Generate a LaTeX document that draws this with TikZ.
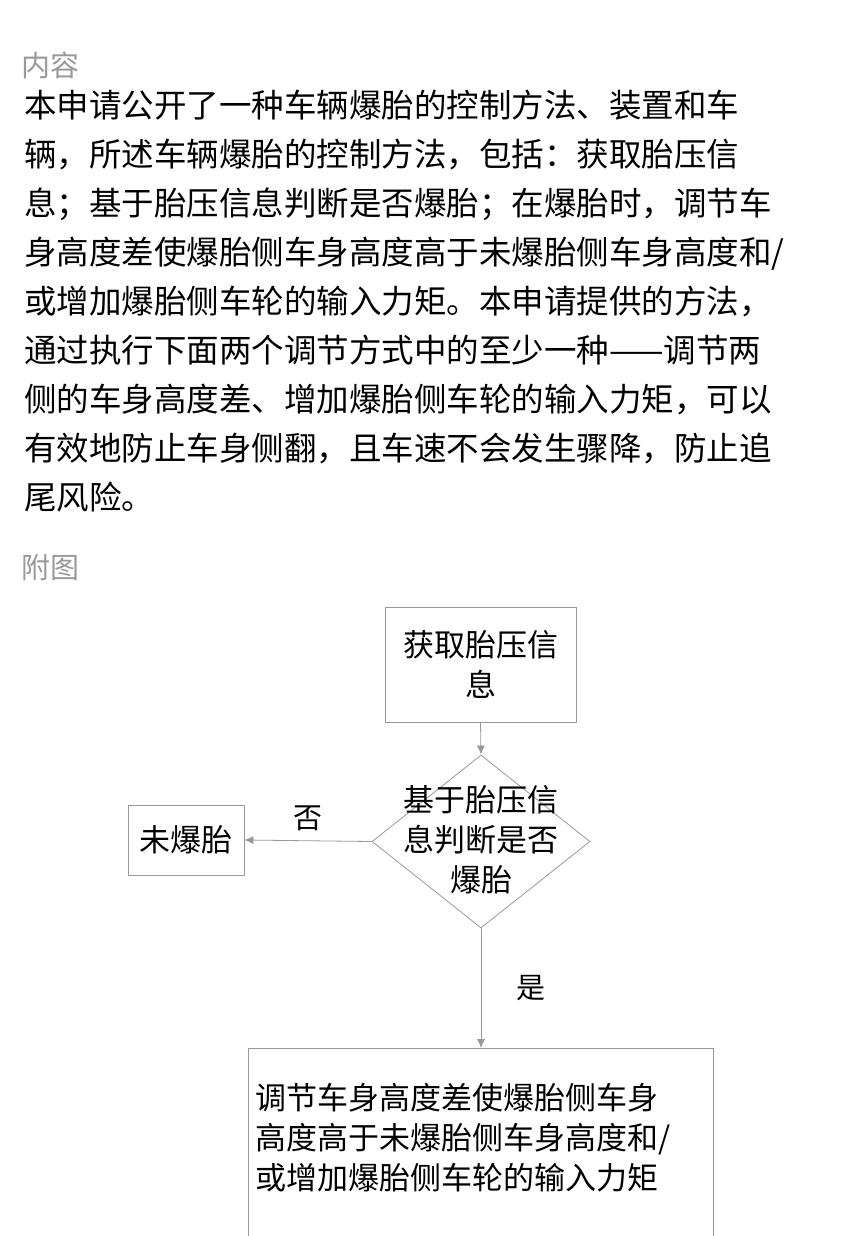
\documentclass[tikz,border=0pt]{standalone}
\usepackage{fontspec}
\newfontfamily\cjk{Noto Sans CJK SC}
\usetikzlibrary{shapes.geometric,arrows.meta}
\begin{document}
\begin{tikzpicture}[x=1pt,y=-1pt,
  head/.style={anchor=west,text=gray!80,font=\cjk\fontsize{29}{30}\selectfont},
  para/.style={anchor=north west,align=left,inner sep=0pt,font=\cjk\fontsize{32.5}{49}\selectfont},
  box/.style={draw=gray!80,thick,font=\cjk\fontsize{31}{40}\selectfont,align=center},
  lbl/.style={font=\cjk\fontsize{29}{30}\selectfont},
  flow/.style={draw=gray!80,thick,-{Latex[length=9pt,width=8pt]}}]
\useasboundingbox (0,0) rectangle (852,1236);
\node[head] (h1) at (18,65) {内容};
\node[para] (txt) at (24,90) {本申请公开了一种车辆爆胎的控制方法、装置和车\\
辆，所述车辆爆胎的控制方法，包括：获取胎压信\\
息；基于胎压信息判断是否爆胎；在爆胎时，调节车\\
身高度差使爆胎侧车身高度高于未爆胎侧车身高度和/\\
或增加爆胎侧车轮的输入力矩。本申请提供的方法，\\
通过执行下面两个调节方式中的至少一种——调节两\\
侧的车身高度差、增加爆胎侧车轮的输入力矩，可以\\
有效地防止车身侧翻，且车速不会发生骤降，防止追\\
尾风险。};
\node[head] (h2) at (18,567) {附图};
% flow chart
\node[box,minimum width=191pt,minimum height=115pt] (get) at (480.5,664.5) {获取胎压信\\息};
\node[box,diamond,minimum width=218pt,minimum height=173pt,inner sep=0pt,aspect=1.26] (judge) at (481,841.5) {};
\node[font=\cjk\fontsize{31}{40}\selectfont,align=center] (jtxt) at (481,840) {基于胎压信\\息判断是否\\爆胎};
\node[box,minimum width=116pt,minimum height=70pt] (no) at (186,840) {未爆胎};
\draw[draw=gray!80,thick] (248,1048) -- (248,1240) (248,1048) -- (713,1048) -- (713,1240);
\coordinate (adj) at (481,1048);
\node[anchor=north west,align=left,font=\cjk\fontsize{31}{40}\selectfont,inner sep=0pt] (atxt) at (255,1083)
  {调节车身高度差使爆胎侧车身\\高度高于未爆胎侧车身高度和/\\或增加爆胎侧车轮的输入力矩};
\draw[flow] (get.south) -- (judge.north);
\draw[flow] (judge.west) -- node[lbl,above=6pt] {否} (no.east);
\draw[flow] (judge.south) -- node[lbl,right=32pt,pos=0.5] {是} (adj);
\end{tikzpicture}
\end{document}
